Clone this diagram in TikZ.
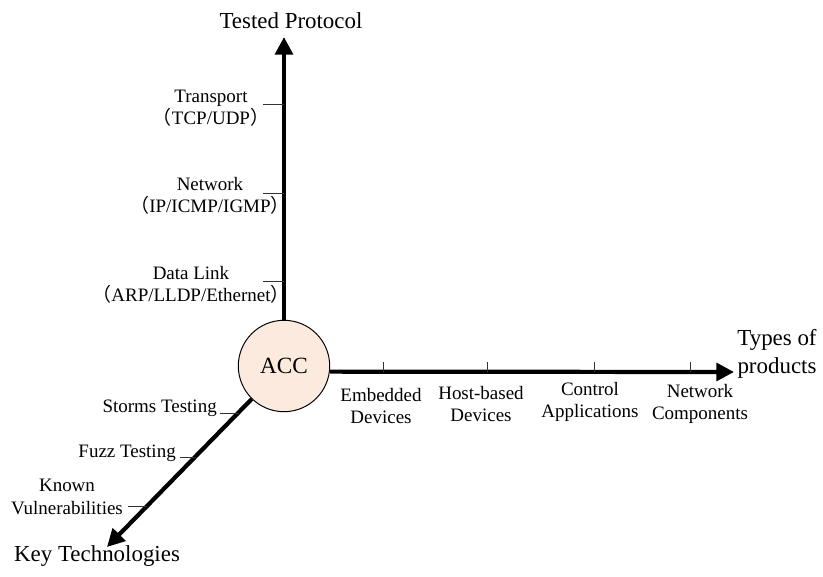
\documentclass[tikz,border=0pt]{standalone}
\usepackage{fontspec}
\setmainfont{Liberation Serif}
\newfontfamily\cjkfont{Noto Sans CJK SC}
\usetikzlibrary{positioning}
\usetikzlibrary{arrows.meta}
\definecolor{accfill}{RGB}{251,234,221}
\newcommand{\fwl}{{\cjkfont （}}
\newcommand{\fwr}{{\cjkfont ）}}
\tikzset{
    axisline/.style = {-{Triangle[length=12.5pt,width=12.5pt]},line width=3pt},
    tickline/.style = {line width=0.7pt,draw=black!80},
    accnode/.style = {circle, draw=black, line width=0.7pt, fill=accfill, minimum size=65pt, inner sep=0pt, font=\fontsize{16.5}{20}\selectfont},
    axisname/.style = {align=center, inner sep=0pt, font=\fontsize{16.3}{19.5}\selectfont},
    ticklabel/.style = {align=center, inner sep=0pt, font=\fontsize{13.5}{15.8}\selectfont}
}

\begin{document}
\begin{tikzpicture}[x=0.025cm,y=-0.025cm]
\useasboundingbox (0,0) rectangle (823,577);
\node[accnode] at (284, 366) (acc) {ACC};
\coordinate (up) at (284, 37);
\coordinate (right) at (734, 372);
\coordinate (down) at (107, 547);
%
\node[axisname] at (291, 21) (tested) {Tested Protocol};
\node[axisname] at (777, 354) (types) {Types of\\products};
\node[axisname] at (97, 556) (keytech) {Key Technologies};
%
\draw[axisline] (acc) -- (up);
\draw[axisline] (acc.-7) -- (right);
\draw[axisline] (acc) -- (down);
%
\coordinate (v1) at (284, 104);
\coordinate (v1l) at (263, 104);
\coordinate (v2) at (284, 193);
\coordinate (v2l) at (263, 193);
\coordinate (v3) at (284, 281);
\coordinate (v3l) at (263, 281);
\node[ticklabel] at (211, 108) (transport) {Transport\\\fwl TCP/UDP\fwr};
\node[ticklabel] at (210, 196) (network) {Network\\\fwl IP/ICMP/IGMP\fwr};
\node[ticklabel] at (191, 285) (datalink) {Data Link\\\fwl ARP/LLDP/Ethernet\fwr};
\draw[tickline] (v1l) -- (v1);
\draw[tickline] (v2l) -- (v2);
\draw[tickline] (v3l) -- (v3);
%
\coordinate (h1) at (383, 372);
\coordinate (h1t) at (383, 362);
\coordinate (h2) at (487, 372);
\coordinate (h2t) at (487, 362);
\coordinate (h3) at (594, 372);
\coordinate (h3t) at (594, 362);
\coordinate (h4) at (690, 372);
\coordinate (h4t) at (690, 362);
\node[ticklabel] at (381, 406) (embedded) {Embedded\\Devices};
\node[ticklabel] at (481, 404) (hostbased) {Host-based\\Devices};
\node[ticklabel] at (590, 402) (control) {Control\\Applications};
\node[ticklabel] at (700, 404) (netcomp) {Network\\Components};
\draw[tickline] (h1t) -- (h1);
\draw[tickline] (h2t) -- (h2);
\draw[tickline] (h3t) -- (h3);
\draw[tickline] (h4t) -- (h4);
%
\coordinate (d1) at (239, 413);
\coordinate (d1l) at (220, 413);
\coordinate (d2) at (196, 457);
\coordinate (d2l) at (180, 457);
\coordinate (d3) at (147, 506);
\coordinate (d3l) at (128, 506);
\node[ticklabel,anchor=east] at (217, 408) (storms) {Storms Testing};
\node[ticklabel,anchor=east] at (176, 453) (fuzz) {Fuzz Testing};
\node[ticklabel] at (67, 497) (known) {Known\\Vulnerabilities};
\draw[tickline] (d1l) -- (d1);
\draw[tickline] (d2l) -- (d2);
\draw[tickline] (d3l) -- (d3);

\end{tikzpicture}
\end{document}
